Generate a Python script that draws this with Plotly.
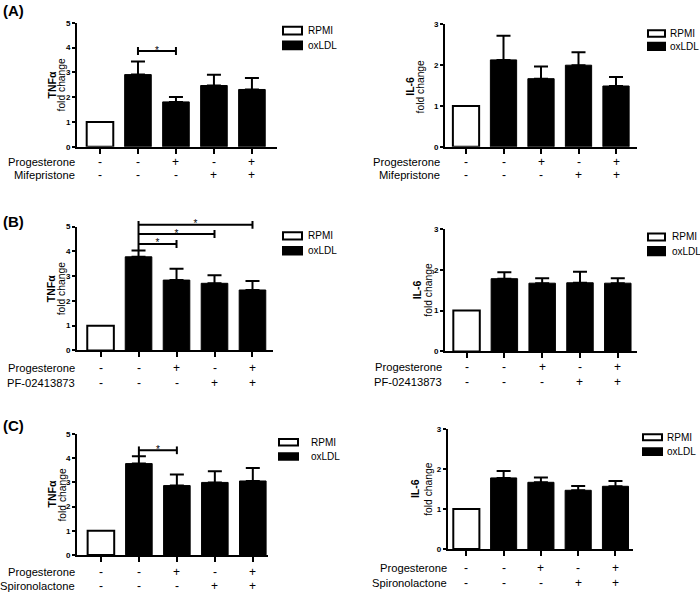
import plotly.graph_objects as go

W, H = 700, 598
FONT = "Liberation Sans, Arial, sans-serif"

# ---------------- data ----------------
categories = [0, 1, 2, 3, 4]
group = ["RPMI", "oxLDL", "oxLDL", "oxLDL", "oxLDL"]
progesterone = ["-", "-", "+", "-", "+"]
inhibitor = ["-", "-", "-", "+", "+"]
inhibitor_names = ["Mifepristone", "PF-02413873", "Spironolactone"]
panel_labels = ["(A)", "(B)", "(C)"]
legend_names = ["RPMI", "oxLDL"]

tnf_A = [1.00, 2.91, 1.81, 2.47, 2.31]
tnf_A_err = [0.00, 0.53, 0.20, 0.43, 0.46]
il6_A = [1.00, 2.13, 1.67, 2.00, 1.49]
il6_A_err = [0.00, 0.59, 0.30, 0.32, 0.22]

tnf_B = [1.00, 3.78, 2.84, 2.71, 2.44]
tnf_B_err = [0.00, 0.25, 0.46, 0.33, 0.36]
il6_B = [1.00, 1.78, 1.67, 1.68, 1.67]
il6_B_err = [0.00, 0.16, 0.12, 0.27, 0.12]

tnf_C = [1.00, 3.78, 2.87, 3.00, 3.06]
tnf_C_err = [0.00, 0.30, 0.46, 0.46, 0.54]
il6_C = [1.00, 1.78, 1.67, 1.47, 1.57]
il6_C_err = [0.00, 0.17, 0.12, 0.11, 0.13]

# significance brackets: (from category, to category, bracket height)
sig_A = [(1, 2, 3.86)]
sig_B = [(1, 2, 4.30), (1, 3, 4.70), (1, 4, 5.07)]
sig_C = [(1, 2, 4.33)]

tnf_ticks = [0, 1, 2, 3, 4, 5]
il6_ticks = [0, 1, 2, 3]

# ---------------- layout (pixel geometry) ----------------
panels = [
    dict(vals=tnf_A, err=tnf_A_err, sig=sig_A, ticks=tnf_ticks, title="TNFα", row=0,
         xpx=(77, 277), ypx=(145, 19), xr=(-0.605, 4.66), tpos=(51.7, 61.7, 82),
         leg=(283, 302, 23, 31, 38, 46), legtx=306, rows=(160, 174), rlab=77),
    dict(vals=il6_A, err=il6_A_err, sig=[], ticks=il6_ticks, title="IL-6", row=0,
         xpx=(445, 637), ypx=(145, 20.7), xr=(-0.56, 4.56), tpos=(410, 420.7, 84),
         leg=(648, 665, 26.7, 33.3, 39.3, 46.7), legtx=668, rows=(160, 174), rlab=442),
    dict(vals=tnf_B, err=tnf_B_err, sig=sig_B, ticks=tnf_ticks, title="TNFα", row=1,
         xpx=(77, 273), ypx=(351.7, 226), xr=(-0.62, 4.54), tpos=(50.5, 61.7, 289),
         leg=(283, 302, 231.7, 239, 246.7, 254.3), legtx=306, rows=(370, 384.3), rlab=77),
    dict(vals=il6_B, err=il6_B_err, sig=[], ticks=il6_ticks, title="IL-6", row=1,
         xpx=(445, 636.7), ypx=(352.7, 228.3), xr=(-0.57, 4.5), tpos=(416.7, 429, 290),
         leg=(648, 665, 233, 240, 246.7, 255), legtx=670, rows=(369, 383.7), rlab=444),
    dict(vals=tnf_C, err=tnf_C_err, sig=sig_C, ticks=tnf_ticks, title="TNFα", row=2,
         xpx=(77, 268), ypx=(559.3, 436.7), xr=(-0.63, 4.4), tpos=(52, 63, 498),
         leg=(279, 298, 441.7, 448.3, 456, 462.7), legtx=309, rows=(576.7, 591), rlab=77),
    dict(vals=il6_C, err=il6_C_err, sig=[], ticks=il6_ticks, title="IL-6", row=2,
         xpx=(447.7, 633), ypx=(553.3, 431.7), xr=(-0.5, 4.47), tpos=(415, 427.7, 492.5),
         leg=(643, 662, 436.7, 443, 451, 458), legtx=665, rows=(573, 587.7), rlab=449),
]
label_pos = [(1, 7), (1, 221), (1, 428)]


def px2x(p):
    return p / W


def px2y(p):
    return 1 - p / H


fig = go.Figure()
layout_axes = {}
annotations = []
shapes = []
extra_axis = 7
EXT = 1.1

for i, P in enumerate(panels):
    n = i + 1
    xa = "x" if n == 1 else f"x{n}"
    ya = "y" if n == 1 else f"y{n}"
    xkey = "xaxis" if n == 1 else f"xaxis{n}"
    ykey = "yaxis" if n == 1 else f"yaxis{n}"
    ymax = P["ticks"][-1]
    ybot, ytop = P["ypx"]

    layout_axes[xkey] = dict(
        domain=[px2x(P["xpx"][0]), px2x(P["xpx"][1])], anchor=ya,
        range=list(P["xr"]), tickvals=categories, showticklabels=False,
        ticks="outside", ticklen=5, tickwidth=1.5, tickcolor="black",
        showline=True, linewidth=2, linecolor="black",
        showgrid=False, zeroline=False, fixedrange=True)
    layout_axes[ykey] = dict(
        domain=[px2y(ybot), px2y(ytop)], anchor=xa,
        range=[0, ymax], tickvals=P["ticks"],
        ticks="outside", ticklen=3, tickwidth=1.5, tickcolor="black",
        tickfont=dict(family=FONT, size=8, color="black", weight="bold"),
        showline=True, linewidth=2, linecolor="black",
        showgrid=False, zeroline=False, fixedrange=True)

    vals, err = P["vals"], P["err"]
    rx = [c for c, g in zip(categories, group) if g == "RPMI"]
    ry = [v for v, g in zip(vals, group) if g == "RPMI"]
    ox = [c for c, g in zip(categories, group) if g == "oxLDL"]
    oy = [v for v, g in zip(vals, group) if g == "oxLDL"]
    oe = [e for e, g in zip(err, group) if g == "oxLDL"]

    fig.add_trace(go.Bar(x=rx, y=ry, width=0.7, xaxis=xa, yaxis=ya,
                         marker=dict(color="white", line=dict(color="black", width=2)),
                         showlegend=False, hoverinfo="skip"))
    fig.add_trace(go.Bar(x=ox, y=oy, width=0.7, xaxis=xa, yaxis=ya,
                         marker=dict(color="black", line=dict(color="black", width=1)),
                         error_y=dict(type="data", symmetric=False, array=oe,
                                      arrayminus=[0] * len(oe), color="black",
                                      thickness=2, width=7),
                         showlegend=False, hoverinfo="skip"))

    # significance brackets on an invisible, taller axis with the same scale
    if P["sig"]:
        yk = f"yaxis{extra_axis}"
        yref = f"y{extra_axis}"
        top_px = ybot - (ybot - ytop) * EXT
        layout_axes[yk] = dict(domain=[px2y(ybot), px2y(top_px)], anchor=xa,
                               range=[0, ymax * EXT], visible=False,
                               showgrid=False, zeroline=False, fixedrange=True)
        extra_axis += 1
        cap = 0.16
        lx, ly = [], []
        a0 = P["sig"][0][0]
        hs = [h for (_, _, h) in P["sig"]]
        err_top = vals[a0] + err[a0]
        stem_bot = err_top if min(hs) - err_top < 0.4 else min(hs) - cap
        lx += [a0, a0, None]
        ly += [stem_bot, max(hs) + cap, None]
        tx, ty = [], []
        for (a, b, h) in P["sig"]:
            lx += [a, b, None, b, b, None]
            ly += [h, h, None, h - cap, h + cap, None]
            tx.append((a + b) / 2)
            ty.append(h)
        fig.add_trace(go.Scatter(x=lx, y=ly, mode="lines", xaxis=xa, yaxis=yref,
                                 line=dict(color="black", width=2),
                                 showlegend=False, hoverinfo="skip"))
        fig.add_trace(go.Scatter(x=tx, y=ty, mode="text", text=["*"] * len(tx),
                                 textposition="middle center", xaxis=xa, yaxis=yref,
                                 textfont=dict(family=FONT, size=10, color="black"),
                                 cliponaxis=False, showlegend=False, hoverinfo="skip"))

    # y-axis title (two rotated lines)
    t1x, t2x, ty_ = P["tpos"]
    annotations.append(dict(
        text=f"<b>{P['title']}</b>", x=px2x(t1x), y=px2y(ty_),
        xref="paper", yref="paper", xanchor="center", yanchor="middle",
        textangle=-90, showarrow=False,
        font=dict(family=FONT, size=10.5, color="black")))
    annotations.append(dict(
        text="fold change", x=px2x(t2x), y=px2y(ty_),
        xref="paper", yref="paper", xanchor="center", yanchor="middle",
        textangle=-90, showarrow=False,
        font=dict(family=FONT, size=10.3, color="black")))

    # legend boxes
    lx0, lx1, r0, r1, o0, o1 = P["leg"]
    for name, (b0, b1), fill in zip(legend_names, [(r0, r1), (o0, o1)], ["white", "black"]):
        shapes.append(dict(type="rect", xref="paper", yref="paper",
                           x0=px2x(lx0), x1=px2x(lx1), y0=px2y(b1), y1=px2y(b0),
                           fillcolor=fill, line=dict(color="black", width=2)))
        annotations.append(dict(text=name, x=px2x(P["legtx"]), y=px2y((b0 + b1) / 2),
                                xref="paper", yref="paper", xanchor="left", yanchor="middle",
                                showarrow=False,
                                font=dict(family=FONT, size=10, color="black")))

    # treatment table
    row_names = ["Progesterone", inhibitor_names[P["row"]]]
    for rname, signs, rpy in zip(row_names, [progesterone, inhibitor], P["rows"]):
        annotations.append(dict(text=rname, x=px2x(P["rlab"]), y=px2y(rpy),
                                xref="paper", yref="paper", xanchor="right", yanchor="middle",
                                showarrow=False,
                                font=dict(family=FONT, size=11.2, color="black")))
        for c, s in zip(categories, signs):
            annotations.append(dict(text=s, x=c, y=px2y(rpy), xref=xa, yref="paper",
                                    xanchor="center", yanchor="middle", showarrow=False,
                                    font=dict(family=FONT, size=12, color="black")))

for lab, (lx_, ly_) in zip(panel_labels, label_pos):
    annotations.append(dict(text=f"<b>{lab}</b>", x=px2x(lx_), y=px2y(ly_),
                            xref="paper", yref="paper", xanchor="left", yanchor="middle",
                            showarrow=False, font=dict(family=FONT, size=15, color="black")))

fig.update_layout(
    width=W, height=H, margin=dict(l=0, r=0, t=0, b=0),
    paper_bgcolor="white", plot_bgcolor="rgba(0,0,0,0)",
    barmode="overlay", showlegend=False,
    font=dict(family=FONT, color="black"),
    annotations=annotations, shapes=shapes,
    **layout_axes)

fig.write_html(
    "out.html",
    config={"displayModeBar": False},
    post_script="document.body.style.margin='0';document.body.style.padding='0';"
                "document.body.style.overflow='hidden';",
)
